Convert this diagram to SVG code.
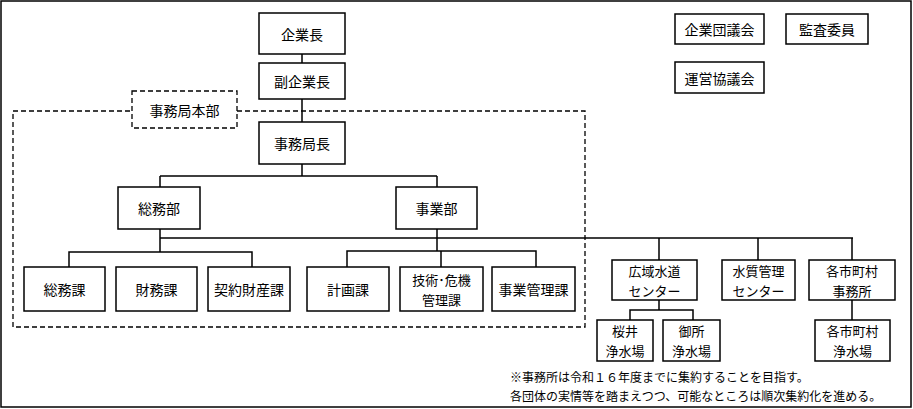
<svg xmlns="http://www.w3.org/2000/svg" width="913" height="409" viewBox="0 0 913 409">
<style>
.b{fill:#fff;stroke:#000;stroke-width:1.5}
.d{fill:#fff;stroke:#000;stroke-width:1.3;stroke-dasharray:5,3}
text{font-family:"Noto Sans CJK JP",sans-serif;font-size:14px;text-anchor:middle;dominant-baseline:central;fill:#000}
.t{font-size:13px}
.n{font-size:12px;text-anchor:start}
#c path{fill:none;stroke:#000;stroke-width:1.5}
</style>
<rect x="1" y="1" width="910" height="406" fill="#fff" stroke="#000" stroke-width="1.5"/>
<rect class="d" x="13" y="111" width="572" height="216" style="fill:none"/>
<g id="c">
<path d="M302 54V63M302 99V122M302 164V176M160 176H437M160 176V187M437 176V187M160 229V238H853M437 229V238M69 267V252H252V267M160 238V252M347 267V251H536V267M437 238V251M441 251V267M659 238V260M758 238V260M852 238V260M659 300V310M630 320V310H693V320M852 300V320"/>
</g>
<g id="jimukyokuhonbu"><rect class="d" x="132" y="91" width="105" height="37"/><text x="184.5" y="110">事務局本部</text></g>
<g id="kigyocho"><rect class="b" x="259" y="13" width="86" height="41"/><text x="302" y="34">企業長</text></g>
<g id="fukukigyocho"><rect class="b" x="259" y="63" width="86" height="36"/><text x="302" y="81">副企業長</text></g>
<g id="jimukyokucho"><rect class="b" x="259" y="122" width="86" height="42"/><text x="302" y="143">事務局長</text></g>
<g id="somubu"><rect class="b" x="118" y="187" width="82" height="42"/><text x="159" y="208">総務部</text></g>
<g id="jigyobu"><rect class="b" x="396" y="187" width="81" height="42"/><text x="436.5" y="208">事業部</text></g>
<g id="somuka"><rect class="b" x="24" y="267" width="81" height="44"/><text x="64.5" y="289">総務課</text></g>
<g id="zaimuka"><rect class="b" x="116" y="267" width="81" height="44"/><text x="156.5" y="289">財務課</text></g>
<g id="keiyaku"><rect class="b" x="208" y="267" width="82" height="44"/><text x="249" y="289">契約財産課</text></g>
<g id="keikaku"><rect class="b" x="307" y="267" width="82" height="44"/><text x="348" y="289">計画課</text></g>
<g id="gijutsu"><rect class="b" x="400" y="267" width="83" height="44"/><text class="t" x="441.5" y="279">技術･危機</text><text class="t" x="441.5" y="299">管理課</text></g>
<g id="jigyokanri"><rect class="b" x="492" y="267" width="83" height="44"/><text x="533.5" y="289">事業管理課</text></g>
<g id="koiki"><rect class="b" x="612" y="260" width="85" height="40"/><text class="t" x="654.5" y="270">広域水道</text><text class="t" x="654.5" y="290">センター</text></g>
<g id="suishitsu"><rect class="b" x="722" y="260" width="73" height="40"/><text class="t" x="758.5" y="270">水質管理</text><text class="t" x="758.5" y="290">センター</text></g>
<g id="kakushi"><rect class="b" x="809" y="260" width="86" height="40"/><text class="t" x="852" y="270">各市町村</text><text class="t" x="852" y="290">事務所</text></g>
<g id="sakurai"><rect class="b" x="597" y="320" width="56" height="41"/><text class="t" x="625" y="330.5">桜井</text><text class="t" x="625" y="350.5">浄水場</text></g>
<g id="gose"><rect class="b" x="663" y="320" width="57" height="41"/><text class="t" x="691.5" y="330.5">御所</text><text class="t" x="691.5" y="350.5">浄水場</text></g>
<g id="kakushijosui"><rect class="b" x="815" y="320" width="75" height="41"/><text class="t" x="852.5" y="330.5">各市町村</text><text class="t" x="852.5" y="350.5">浄水場</text></g>
<g id="gikai"><rect class="b" x="675" y="14" width="89" height="30"/><text x="719.5" y="29">企業団議会</text></g>
<g id="kansa"><rect class="b" x="786" y="14" width="82" height="30"/><text x="827" y="29">監査委員</text></g>
<g id="uneikyo"><rect class="b" x="675" y="62" width="89" height="31"/><text x="719.5" y="77.5">運営協議会</text></g>
<text class="n" x="510" y="376">※事務所は令和１６年度までに集約することを目指す。</text>
<text class="n" x="510" y="395">各団体の実情等を踏まえつつ、可能なところは順次集約化を進める。</text>
</svg>
